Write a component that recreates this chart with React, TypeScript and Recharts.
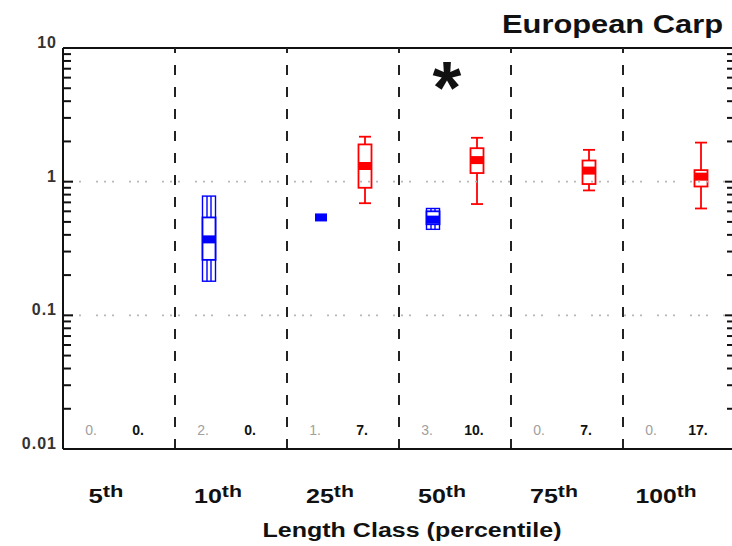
import {
  Bar,
  ComposedChart,
  Customized,
  ReferenceDot,
  ReferenceLine,
  XAxis,
  YAxis,
} from "recharts";

const categories = ["5th", "10th", "25th", "50th", "75th", "100th"];

// blue boxes (left slot of each length class)
const blueMin = [null, 0.18, null, 0.44, null, null];
const blueQ1 = [null, 0.26, null, 0.48, null, null];
const blueMed = [null, 0.37, 0.54, 0.52, null, null];
const blueQ3 = [null, 0.54, null, 0.6, null, null];
const blueMax = [null, 0.78, null, 0.63, null, null];

// red boxes (right slot)
const redMin = [null, null, 0.69, 0.68, 0.86, 0.63];
const redQ1 = [null, null, 0.9, 1.16, 0.96, 0.92];
const redMed = [null, null, 1.31, 1.45, 1.21, 1.09];
const redQ3 = [null, null, 1.9, 1.78, 1.44, 1.22];
const redMax = [null, null, 2.17, 2.13, 1.73, 1.96];

const grayCounts = [0, 2, 1, 3, 0, 0];
const blackCounts = [0, 0, 7, 10, 7, 17];

const yTicks = [0.01, 0.1, 1, 10];
const minorTicks = [
  0.02, 0.03, 0.04, 0.05, 0.06, 0.07, 0.08, 0.09,
  0.2, 0.3, 0.4, 0.5, 0.6, 0.7, 0.8, 0.9,
  2, 3, 4, 5, 6, 7, 8, 9,
];
const gridValues = [0.1, 1];
const starCategory = "50th";
const starValue = 6.2;

const BLUE = "#0000ff";
const RED = "#ff0000";
const INK = "#111";

type Range = [number, number] | null;

const range = (lo: number | null, hi: number | null): Range =>
  lo == null || hi == null ? null : [lo, hi];

const data = categories.map((cat, i) => ({
  cat,
  blueWhisker: range(blueMin[i], blueMax[i]),
  blueBox: range(blueQ1[i], blueQ3[i]),
  blueMid: range(blueMed[i], blueMed[i]),
  redWhisker: range(redMin[i], redMax[i]),
  redBox: range(redQ1[i], redQ3[i]),
  redMid: range(redMed[i], redMed[i]),
}));

function ok(props: any, key: string) {
  const { x, y, width, height, payload } = props;
  return (
    payload &&
    payload[key] != null &&
    Number.isFinite(x) &&
    Number.isFinite(y) &&
    Number.isFinite(width) &&
    Number.isFinite(height)
  );
}

function whiskerShape(key: string, color: string, doubled: boolean) {
  return (props: any) => {
    if (!ok(props, key)) return <g />;
    const { x, y, width, height } = props;
    const cx = x + width / 2;
    const top = Math.min(y, y + height);
    const bot = Math.max(y, y + height);
    if (doubled) {
      return (
        <g stroke={color} strokeWidth={1.4} fill="none">
          <rect x={cx - 6.5} y={top} width={13} height={bot - top} />
          <line x1={cx - 2} y1={top} x2={cx - 2} y2={bot} />
          <line x1={cx + 2} y1={top} x2={cx + 2} y2={bot} />
        </g>
      );
    }
    return (
      <g stroke={color} strokeWidth={1.8}>
        <line x1={cx} y1={top} x2={cx} y2={bot} />
        <line x1={cx - 6} y1={top} x2={cx + 6} y2={top} />
        <line x1={cx - 6} y1={bot} x2={cx + 6} y2={bot} />
      </g>
    );
  };
}

function boxShape(key: string, color: string) {
  return (props: any) => {
    if (!ok(props, key)) return <g />;
    const { x, y, width, height } = props;
    const cx = x + width / 2;
    const top = Math.min(y, y + height);
    const bot = Math.max(y, y + height);
    return (
      <rect
        x={cx - 6.5}
        y={top}
        width={13}
        height={bot - top}
        fill="#fff"
        stroke={color}
        strokeWidth={1.8}
      />
    );
  };
}

function medianShape(key: string, color: string) {
  return (props: any) => {
    if (!ok(props, key)) return <g />;
    const { x, y, width } = props;
    const cx = x + width / 2;
    return <rect x={cx - 6} y={y - 4} width={12} height={8} fill={color} />;
  };
}

function ClassTick(props: any) {
  const { x, y, index, payload } = props;
  const num = String(payload.value).replace("th", "");
  return (
    <g>
      <text x={x - 28} y={y - 14} textAnchor="middle" fontSize={14} fill="#a0a0a0">
        {`${grayCounts[index]}.`}
      </text>
      <text
        x={x + 19}
        y={y - 14}
        textAnchor="middle"
        fontSize={14}
        fontWeight="bold"
        fill={INK}
      >
        {`${blackCounts[index]}.`}
      </text>
      <text
        x={x - 13}
        y={y + 54}
        textAnchor="middle"
        fontWeight="bold"
        fill={INK}
        textLength={num.length * 13 + 22}
        lengthAdjust="spacingAndGlyphs"
      >
        <tspan fontSize={20}>{num}</tspan>
        <tspan fontSize={17} dy={-6}>
          th
        </tspan>
      </text>
    </g>
  );
}

function ValueTick(props: any) {
  const { x, y, payload } = props;
  return (
    <text
      x={x}
      y={y}
      textAnchor="end"
      fontSize={16}
      fontWeight="bold"
      letterSpacing={1}
      fill="#333"
    >
      {String(payload.value)}
    </text>
  );
}

const NoLabel = () => <g />;

function Titles() {
  return (
    <g fill={INK} fontWeight="bold">
      <text
        x={723}
        y={33}
        textAnchor="end"
        fontSize={25}
        textLength={221}
        lengthAdjust="spacingAndGlyphs"
      >
        European Carp
      </text>
      <text
        x={412}
        y={537}
        textAnchor="middle"
        fontSize={20}
        textLength={299}
        lengthAdjust="spacingAndGlyphs"
      >
        Length Class (percentile)
      </text>
    </g>
  );
}

const logAxis = {
  yAxisId: "v",
  scale: "log" as const,
  type: "number" as const,
  domain: [0.01, 10],
  allowDataOverflow: true,
  interval: 0 as const,
};

export default function App() {
  return (
    <div
      style={{
        position: "absolute",
        left: 0,
        top: 0,
        width: 732,
        height: 546,
        overflow: "hidden",
        background: "#fff",
        fontFamily: "'Liberation Sans', Arial, Helvetica, sans-serif",
      }}
    >
      <ComposedChart
        width={740}
        height={546}
        data={data}
        margin={{ top: 48, right: 5, bottom: 0, left: 0 }}
        barGap={30}
        barSize={14}
      >
        <XAxis
          xAxisId="main"
          dataKey="cat"
          type="category"
          interval={0}
          height={97}
          tickLine={false}
          tickSize={0}
          tickMargin={0}
          axisLine={{ stroke: INK, strokeWidth: 2 }}
          tick={(p: any) => <ClassTick {...p} />}
        />
        <XAxis xAxisId="w" dataKey="cat" type="category" height={0} hide />
        <XAxis xAxisId="m" dataKey="cat" type="category" height={0} hide />

        <YAxis
          {...logAxis}
          ticks={yTicks}
          width={63}
          tickLine={false}
          tickSize={0}
          tickMargin={6}
          axisLine={{ stroke: INK, strokeWidth: 2 }}
          tick={(p: any) => <ValueTick {...p} />}
        />
        <YAxis
          {...logAxis}
          yAxisId="lmaj"
          mirror
          width={1}
          ticks={yTicks}
          tickSize={10}
          axisLine={false}
          tickLine={{ stroke: INK, strokeWidth: 2 }}
          tick={NoLabel}
        />
        <YAxis
          {...logAxis}
          yAxisId="lmin"
          mirror
          width={1}
          ticks={minorTicks}
          tickSize={7}
          axisLine={false}
          tickLine={{ stroke: INK, strokeWidth: 2 }}
          tick={NoLabel}
        />
        <YAxis
          {...logAxis}
          yAxisId="rmaj"
          orientation="right"
          mirror
          width={1}
          ticks={yTicks}
          tickSize={10}
          axisLine={{ stroke: INK, strokeWidth: 2 }}
          tickLine={{ stroke: INK, strokeWidth: 2 }}
          tick={NoLabel}
        />
        <YAxis
          {...logAxis}
          yAxisId="rmin"
          orientation="right"
          mirror
          width={1}
          ticks={minorTicks}
          tickSize={7}
          axisLine={false}
          tickLine={{ stroke: INK, strokeWidth: 2 }}
          tick={NoLabel}
        />

        {gridValues.map((v) => (
          <ReferenceLine
            key={`g${v}`}
            xAxisId="main"
            yAxisId="v"
            y={v}
            stroke="#b8b8b8"
            strokeWidth={1.6}
            strokeDasharray="2 6 2 6 2 15"
          />
        ))}
        <ReferenceLine xAxisId="main" yAxisId="v" y={10} stroke={INK} strokeWidth={2} />
        {categories.slice(1).map((c) => (
          <ReferenceLine
            key={`b${c}`}
            xAxisId="main"
            yAxisId="v"
            x={c}
            position="start"
            stroke="#222"
            strokeWidth={2}
            strokeDasharray="10 12"
          />
        ))}

        <Bar
          xAxisId="w"
          yAxisId="v"
          dataKey="blueWhisker"
          isAnimationActive={false}
          shape={whiskerShape("blueWhisker", BLUE, true)}
        />
        <Bar
          xAxisId="w"
          yAxisId="v"
          dataKey="redWhisker"
          isAnimationActive={false}
          shape={whiskerShape("redWhisker", RED, false)}
        />
        <Bar
          xAxisId="main"
          yAxisId="v"
          dataKey="blueBox"
          isAnimationActive={false}
          shape={boxShape("blueBox", BLUE)}
        />
        <Bar
          xAxisId="main"
          yAxisId="v"
          dataKey="redBox"
          isAnimationActive={false}
          shape={boxShape("redBox", RED)}
        />
        <Bar
          xAxisId="m"
          yAxisId="v"
          dataKey="blueMid"
          isAnimationActive={false}
          shape={medianShape("blueMid", BLUE)}
        />
        <Bar
          xAxisId="m"
          yAxisId="v"
          dataKey="redMid"
          isAnimationActive={false}
          shape={medianShape("redMid", RED)}
        />

        <ReferenceDot
          xAxisId="main"
          yAxisId="v"
          x={starCategory}
          y={starValue}
          r={0}
          shape={(p: any) => (
            <text
              x={p.cx - 8}
              y={p.cy + 37}
              textAnchor="middle"
              fontSize={74}
              fontWeight="bold"
              fill={INK}
            >
              *
            </text>
          )}
        />
        <Customized component={<Titles />} />
      </ComposedChart>
    </div>
  );
}
